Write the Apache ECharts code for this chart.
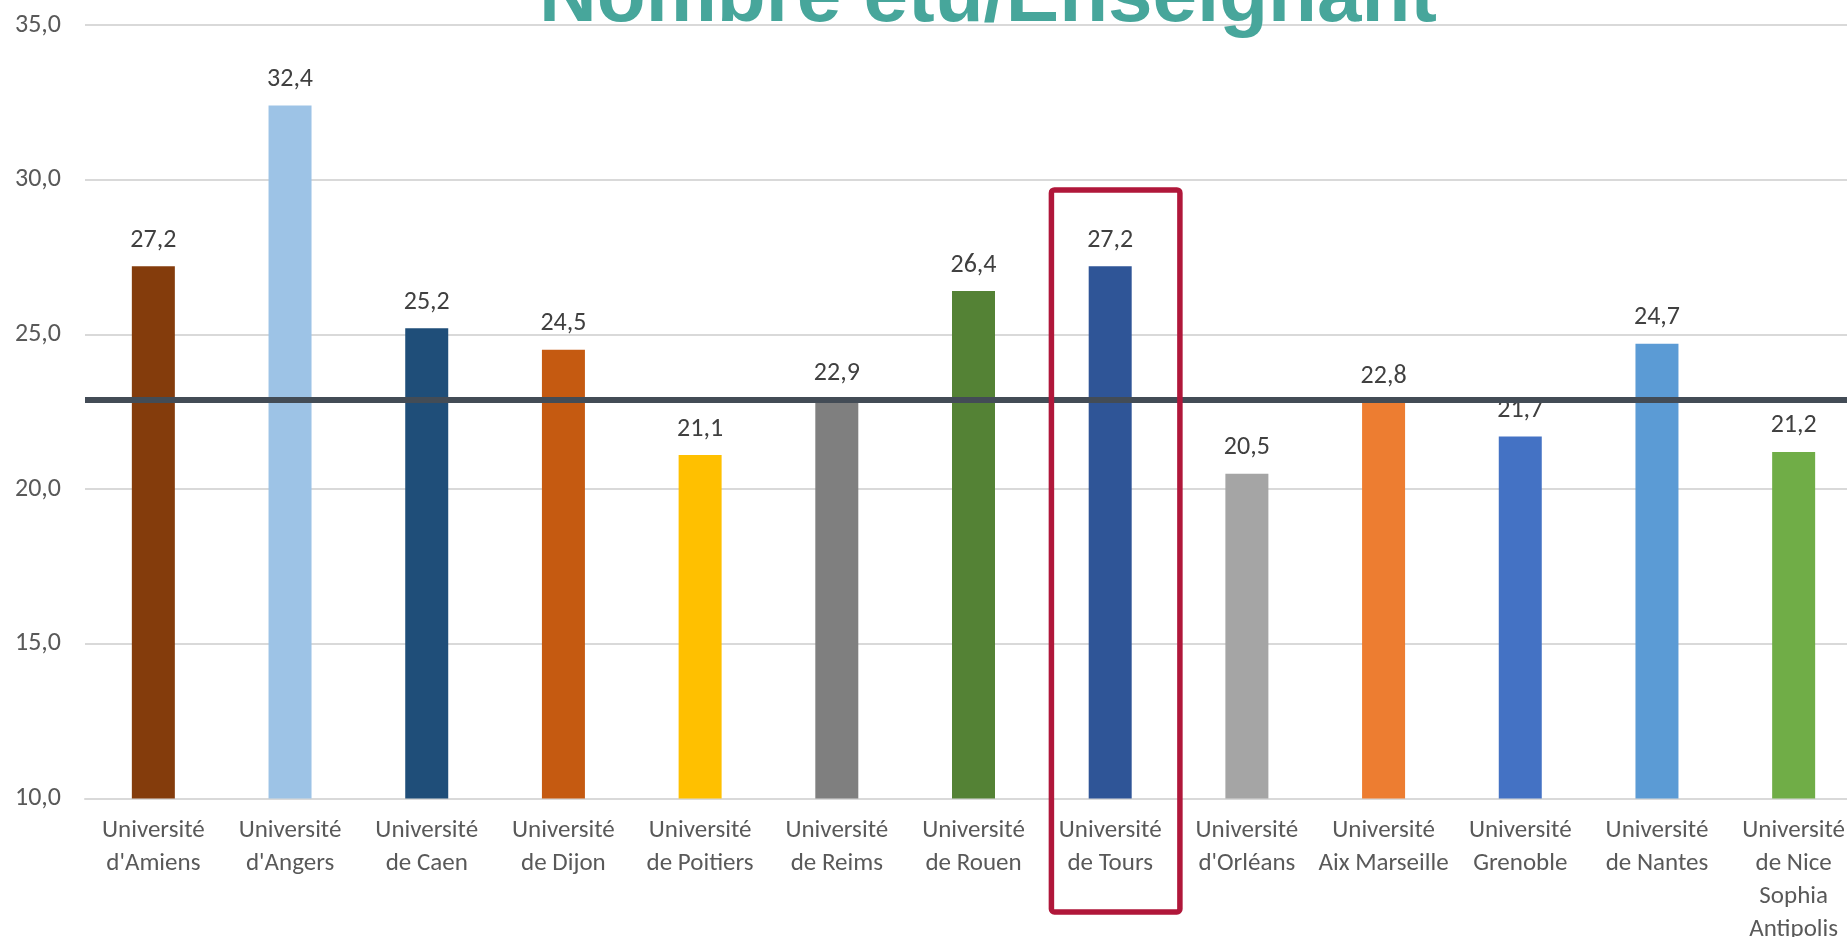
<!DOCTYPE html>
<html>
<head>
<meta charset="utf-8">
<title>Nombre étu/Enseignant</title>
<script src="https://cdn.jsdelivr.net/npm/echarts@6/dist/echarts.min.js"></script>
<style>
  html, body { margin: 0; padding: 0; background: #ffffff; }
  #chart { width: 1847px; height: 937px; }
</style>
</head>
<body>
<div id="chart"></div>
<script>
// données
const universites = [
  'Université\nd\'Amiens',
  'Université\nd\'Angers',
  'Université\nde Caen',
  'Université\nde Dijon',
  'Université\nde Poitiers',
  'Université\nde Reims',
  'Université\nde Rouen',
  'Université\nde Tours',
  'Université\nd\'Orléans',
  'Université\nAix Marseille',
  'Université\nGrenoble',
  'Université\nde Nantes',
  'Université\nde Nice\nSophia\nAntipolis'
];
const etuParEnseignant = [27.2, 32.4, 25.2, 24.5, 21.1, 22.9, 26.4, 27.2, 20.5, 22.8, 21.7, 24.7, 21.2];
const moyenne = 22.9;
const couleurs = ['#843C0C', '#9DC3E6', '#1F4E79', '#C55A11', '#FFC000', '#7F7F7F', '#548235',
  '#2F5597', '#A5A5A5', '#ED7D31', '#4472C4', '#5B9BD5', '#70AD47'];
const axeY = { min: 10, max: 35, interval: 5 };
const universiteMiseEnAvant = 'Université\nde Tours';

const police = 'Carlito, Lato, sans-serif';
const virgule = (v) => v.toFixed(1).replace('.', ',');

let chart = echarts.init(document.getElementById('chart'));

let option = {
  animation: false,
  backgroundColor: '#ffffff',
  grid: {
    left: 85,
    top: 25,
    width: 1777,
    height: 773.5,
    containLabel: false,
    outerBoundsMode: 'none'
  },
  xAxis: {
    type: 'category',
    data: universites,
    axisTick: { show: false },
    axisLine: { lineStyle: { color: '#D9D9D9', width: 2 } },
    axisLabel: {
      interval: 0,
      margin: 16,
      color: '#595959',
      fontFamily: police,
      fontSize: 25,
      lineHeight: 33
    }
  },
  yAxis: {
    type: 'value',
    min: axeY.min,
    max: axeY.max,
    interval: axeY.interval,
    axisLine: { show: false },
    axisTick: { show: false },
    splitLine: { lineStyle: { color: '#D9D9D9', width: 2 } },
    axisLabel: {
      margin: 24,
      color: '#595959',
      fontFamily: police,
      fontSize: 26,
      formatter: (v) => virgule(v)
    }
  },
  series: [
    {
      type: 'bar',
      barWidth: 43,
      data: etuParEnseignant.map((v, i) => ({ value: v, itemStyle: { color: couleurs[i] } })),
      label: {
        show: true,
        position: 'top',
        distance: 13,
        color: '#404040',
        fontFamily: police,
        fontSize: 26,
        formatter: (p) => virgule(p.value)
      },
      markLine: {
        silent: true,
        symbol: 'none',
        label: { show: false },
        lineStyle: { color: '#434C56', width: 6, type: 'solid' },
        data: [{ yAxis: moyenne }]
      }
    }
  ],
  graphic: [
    {
      id: 'titre',
      type: 'text',
      x: 988,
      y: -1,
      z: 10,
      style: {
        text: 'Nombre étu/Enseignant',
        font: 'bold 80px "Liberation Sans", Arial, sans-serif',
        fill: '#47A69B',
        align: 'center',
        verticalAlign: 'middle'
      }
    }
  ]
};

chart.setOption(option);

// cadre rouge autour de Tours
function dessinerCadre()
{
  let idx = universites.indexOf(universiteMiseEnAvant);
  let haut = chart.convertToPixel({ xAxisIndex: 0, yAxisIndex: 0 }, [idx, 29.67]);
  let pas = chart.convertToPixel({ xAxisIndex: 0 }, 1) - chart.convertToPixel({ xAxisIndex: 0 }, 0);
  let gauche = haut[0] - pas * 0.43;
  let droite = haut[0] + pas * 0.51;
  chart.setOption({
    graphic: [
      {
        id: 'cadre',
        type: 'rect',
        z: 20,
        shape: { x: gauche, y: haut[1], width: droite - gauche, height: 912 - haut[1], r: 3 },
        style: { fill: 'none', stroke: '#B0173A', lineWidth: 5.5 }
      }
    ]
  });
};

dessinerCadre();
</script>
</body>
</html>
